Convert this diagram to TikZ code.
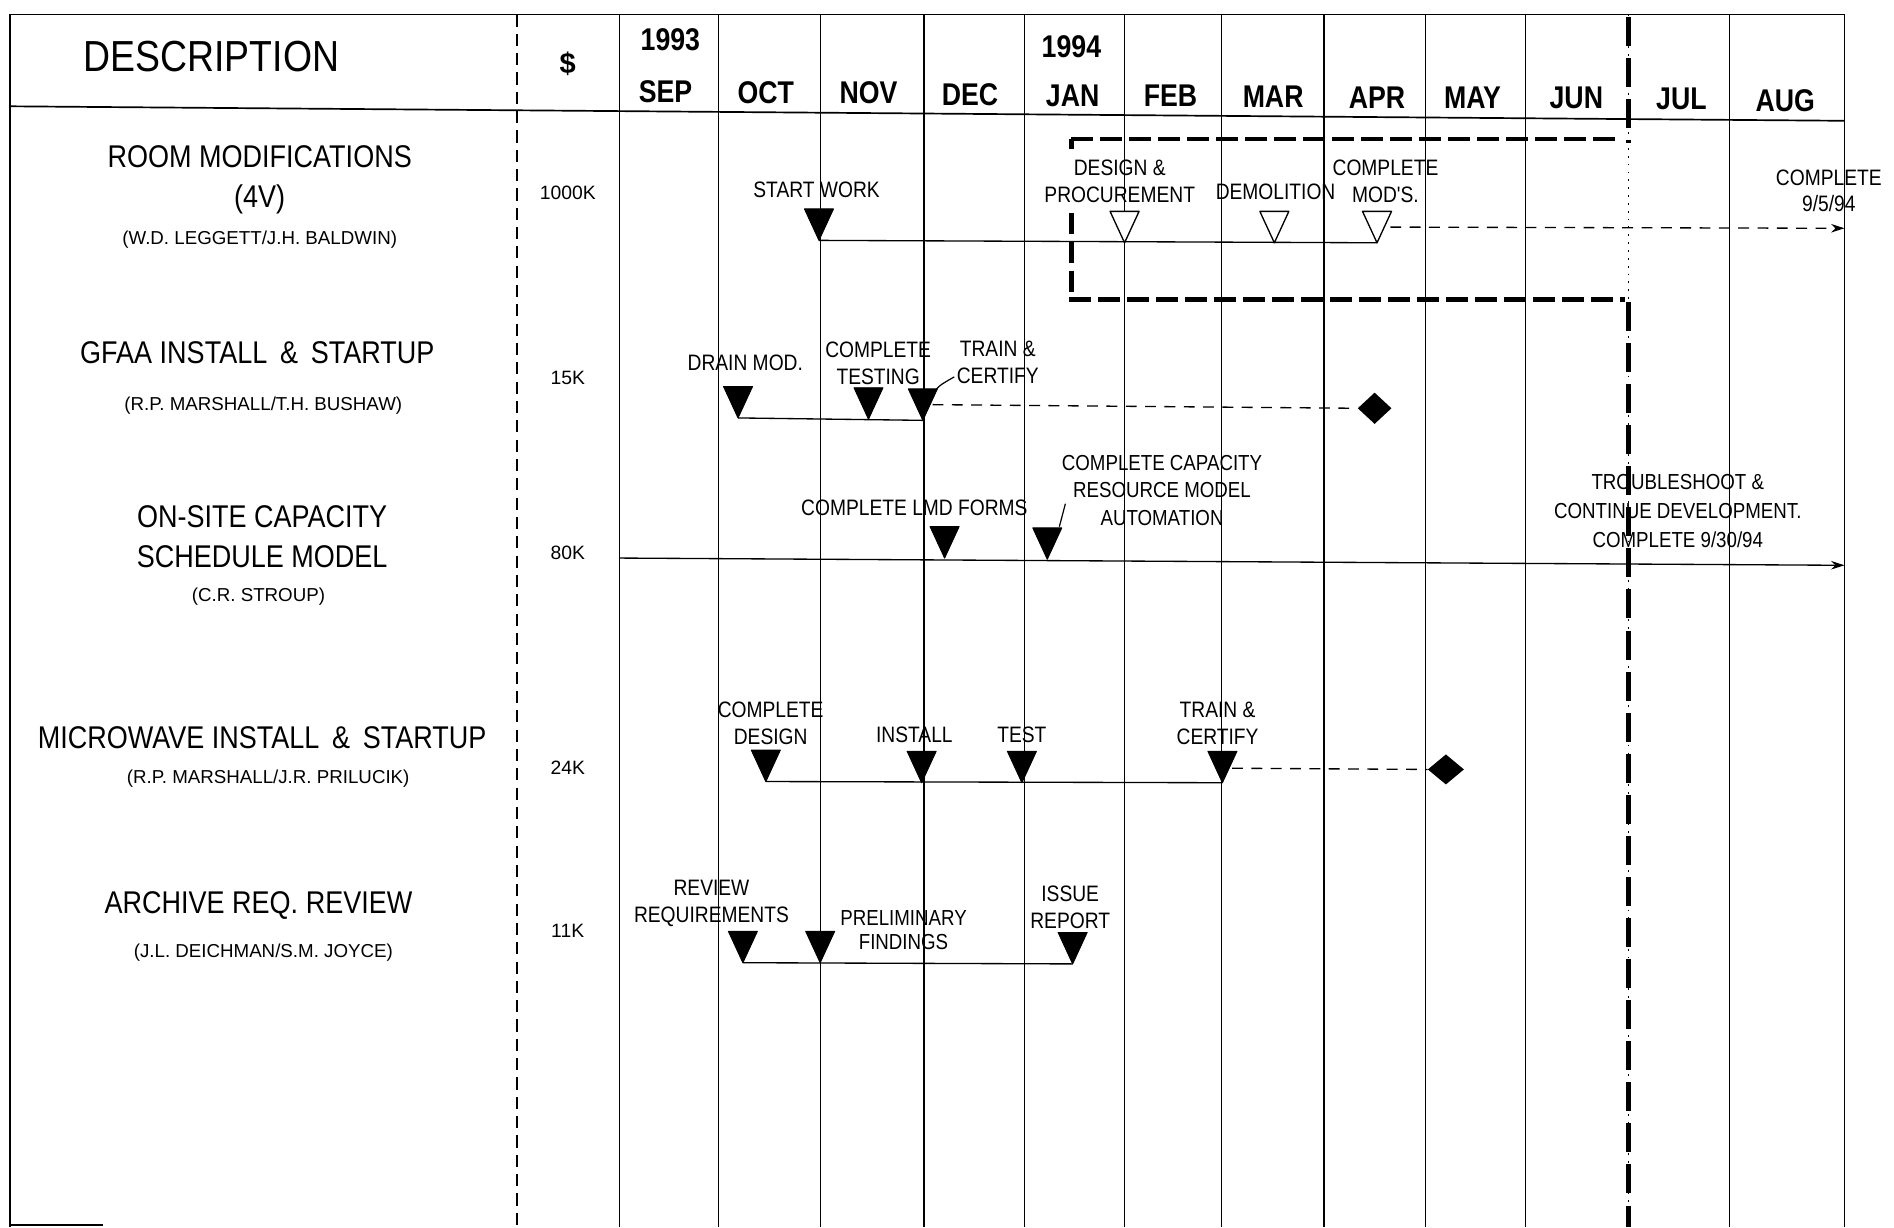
\documentclass[tikz,border=0pt]{standalone}
\usepackage{fontspec}
\setmainfont{Liberation Sans}
\newfontfamily\nfont[FakeStretch=0.86]{Liberation Sans}
\newfontfamily\hfont[FakeStretch=0.85]{Liberation Sans}
\usetikzlibrary{arrows.meta,shapes.geometric}
\newcommand\mstone[4]{%
  \coordinate (#1) at (#2,#3);
  \draw[#4] (#1) -- ++(-12,-26) -- ++(24,0) -- cycle;}
\begin{document}
\begin{tikzpicture}[x=1pt,y=-1pt,
  grid/.style={line width=1.1pt},
  frame/.style={line width=1.4pt},
  full/.style={fill=black,line width=0.8pt,line join=round},
  open/.style={fill=white,line width=1.1pt,line join=round},
  conn/.style={line width=1.1pt},
  dconn/.style={line width=1.1pt,dash pattern=on 9pt off 7pt},
  heavy/.style={line width=3.6pt,dash pattern=on 18pt off 6pt},
  lbl/.style={font=\nfont\fontsize{18.5}{22}\selectfont,align=center,inner sep=0},
  ttl/.style={font=\nfont\fontsize{26}{33}\selectfont,align=center,inner sep=0},
  who/.style={font=\fontsize{15.5}{18}\selectfont,inner sep=0},
  amt/.style={font=\fontsize{16}{18}\selectfont,inner sep=0},
  mon/.style={font=\hfont\bfseries\fontsize{26}{28}\selectfont,inner sep=0},
  dia/.style={diamond,fill=black,minimum width=28pt,minimum height=26pt,inner sep=0},
  tip/.style={-{Stealth[length=11pt,width=7pt]}}]
\useasboundingbox[fill=white] (0,0) rectangle (1568,1016);

% ---------- frame and grid ----------
\draw[frame] (8,12) -- (1527,12);
\draw[frame] (8,12) -- (8,1016);
\draw[frame] (1527,12) -- (1527,1016);
\draw[frame] (8,88) -- (1527,100);
\draw[frame] (8,1014) -- (85,1014);
\draw[line width=1pt,dash pattern=on 10pt off 6pt] (428,12) -- (428,1016);
\foreach \xx in {513,595,679,765,848,931,1011,1096,1180,1263,1432}
  \draw[grid] (\xx,12) -- (\xx,1016);
\draw[line width=1pt,dash pattern=on 1.5pt off 5pt] (1348,12) -- (1348,1016);
\draw[line width=3.8pt,dash pattern=on 24pt off 10pt] (1348,14) -- (1348,118);
\draw[line width=3.8pt,dash pattern=on 24pt off 10pt] (1348,250) -- (1348,1016);

% dashed box
\draw[heavy] (887,115) -- (1340,115);
\draw[heavy] (885,248) -- (1345,248);
\draw[line width=3.6pt] (887,115) -- (887,123);
\draw[heavy] (887,176) -- (887,248);

% ---------- header ----------
\node[font=\nfont\fontsize{36}{40}\selectfont,inner sep=0] (hdesc) at (175,47) {DESCRIPTION};
\node[font=\bfseries\fontsize{24}{26}\selectfont,inner sep=0] (hdol) at (470,53) {\$};
\node[mon] (y93) at (555,33) {1993};
\node[mon] (y94) at (887,39) {1994};
\node[mon] (msep) at (551,76) {SEP};
\node[mon] (moct) at (634,77) {OCT};
\node[mon] (mnov) at (719,77) {NOV};
\node[mon] (mdec) at (803,78) {DEC};
\node[mon] (mjan) at (888,79) {JAN};
\node[mon] (mfeb) at (969,79) {FEB};
\node[mon] (mmar) at (1054,80) {MAR};
\node[mon] (mapr) at (1140,81) {APR};
\node[mon] (mmay) at (1219,81) {MAY};
\node[mon] (mjun) at (1305,81) {JUN};
\node[mon] (mjul) at (1392,82) {JUL};
\node[mon] (maug) at (1478,83) {AUG};

% ---------- row 1 ----------
\node[ttl] (t1) at (215,149) {ROOM MODIFICATIONS\\(4V)};
\node[who] (w1) at (215,198) {(W.D. LEGGETT/J.H. BALDWIN)};
\node[amt] (a1) at (470,160) {1000K};
\node[lbl] (l1a) at (676,157) {START WORK};
\node[lbl] (l1b) at (927,150) {DESIGN \&\\PROCUREMENT};
\node[lbl] (l1c) at (1056,159) {DEMOLITION};
\node[lbl] (l1d) at (1147,150) {COMPLETE\\MOD'S.};
\node[lbl] (l1e) at (1514,158) {COMPLETE\\9/5/94};
\mstone{r1a}{678}{199}{full}
\mstone{r1b}{931}{201}{open}
\mstone{r1c}{1055}{201}{open}
\mstone{r1d}{1140}{201}{open}
\draw[conn] (r1a) -- (r1d);
\coordinate (r1dR) at (1151,188);
\coordinate (r1end) at (1527,189);
\draw[dconn,tip] (r1dR) -- (r1end);

% ---------- row 2 ----------
\node[ttl] (t2) at (213,292) {GFAA INSTALL \,\&\, STARTUP};
\node[who] (w2) at (218,336) {(R.P. MARSHALL/T.H. BUSHAW)};
\node[amt] (a2) at (470,313) {15K};
\node[lbl] (l2a) at (617,300) {DRAIN MOD.};
\node[lbl] (l2b) at (727,301) {COMPLETE\\TESTING};
\node[lbl] (l2c) at (826,300) {TRAIN \&\\CERTIFY};
\mstone{r2a}{611}{346}{full}
\mstone{r2b}{719}{347}{full}
\mstone{r2c}{764}{348}{full}
\draw[conn] (r2a) -- (r2c);
\coordinate (r2cR) at (772,335);
\coordinate (r2lead) at (790,312);
\draw[line width=1pt] (770,330) .. controls (776,320) .. (r2lead);
\node[dia] (d2) at (1138,338) {};
\draw[dconn] (r2cR) -- (d2.west);

% ---------- row 3 ----------
\node[ttl] (t3) at (217,444) {ON-SITE CAPACITY\\SCHEDULE MODEL};
\node[who] (w3) at (214,494) {(C.R. STROUP)};
\node[amt] (a3) at (470,458) {80K};
\node[lbl] (l3a) at (757,420) {COMPLETE LMD FORMS};
\node[lbl,font=\nfont\fontsize{18}{22.5}\selectfont] (l3b) at (962,406) {COMPLETE CAPACITY\\RESOURCE MODEL\\AUTOMATION};
\node[lbl,font=\nfont\fontsize{18}{24}\selectfont] (l3c) at (1389,423) {TROUBLESHOOT \&\\CONTINUE DEVELOPMENT.\\COMPLETE 9/30/94};
\mstone{r3a}{782}{462}{full}
\mstone{r3b}{867}{463}{full}
\draw[line width=1pt] (877,436) -- (882,417);
\coordinate (r3s) at (513,462);
\coordinate (r3e) at (1527,468);
\draw[conn,tip] (r3s) -- (r3e);

% ---------- row 4 ----------
\node[ttl] (t4) at (217,611) {MICROWAVE INSTALL \,\&\, STARTUP};
\node[who] (w4) at (222,645) {(R.P. MARSHALL/J.R. PRILUCIK)};
\node[amt] (a4) at (470,636) {24K};
\node[lbl] (l4a) at (638,599) {COMPLETE\\DESIGN};
\node[lbl] (l4b) at (757,608) {INSTALL};
\node[lbl] (l4c) at (846,608) {TEST};
\node[lbl] (l4d) at (1008,599) {TRAIN \&\\CERTIFY};
\mstone{r4a}{634}{647}{full}
\mstone{r4b}{763}{648}{full}
\mstone{r4c}{846}{648}{full}
\mstone{r4d}{1012}{648}{full}
\draw[conn] (r4a) -- (r4d);
\coordinate (r4dR) at (1020,636);
\node[dia,minimum width=30pt,minimum height=25pt] (d4) at (1197,637) {};
\draw[dconn] (r4dR) -- (d4.west);

% ---------- row 5 ----------
\node[ttl] (t5) at (214,750) {ARCHIVE REQ. REVIEW};
\node[who] (w5) at (218,789) {(J.L. DEICHMAN/S.M. JOYCE)};
\node[amt] (a5) at (470,771) {11K};
\node[lbl] (l5a) at (589,748) {REVIEW\\REQUIREMENTS};
\node[lbl,font=\nfont\fontsize{18}{20}\selectfont] (l5b) at (748,770) {PRELIMINARY\\FINDINGS};
\node[lbl] (l5c) at (886,751) {ISSUE\\REPORT};
\mstone{r5a}{615}{797}{full}
\mstone{r5b}{679}{797}{full}
\mstone{r5c}{888}{798}{full}
\draw[conn] (r5a) -- (r5c);
\end{tikzpicture}
\end{document}
